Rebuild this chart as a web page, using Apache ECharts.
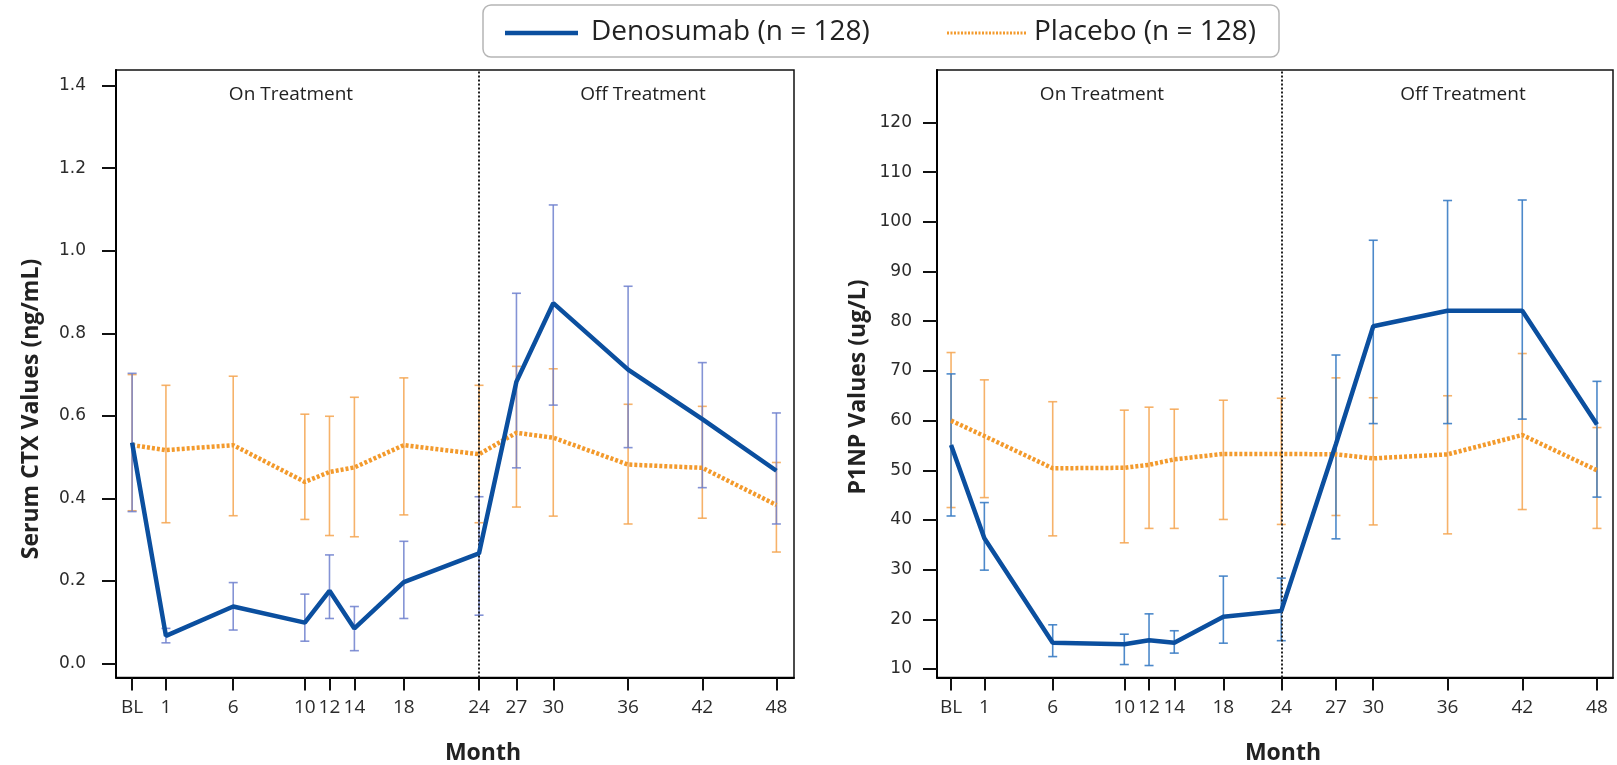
<!DOCTYPE html>
<html><head><meta charset="utf-8">
<script src="https://cdn.jsdelivr.net/npm/echarts@6/dist/echarts.min.js"></script>
<style>html,body{margin:0;padding:0;background:#fff}#c{width:1617px;height:765px}</style>
</head><body><div id="c"></div>
<script>
// ---- data ----
const visitLabels = ['BL','1','6','10','12','14','18','24','27','30','36','42','48'];
// horizontal placement of each visit on the original (irregular) month axis
const xPosLeft  = [-4.0,-1.27,4.16,9.94,11.93,13.94,17.93,24,27.02,29.99,36.03,42.02,48];
const xPosRight = [-3.97,-1.29,4.21,9.97,11.96,13.99,17.94,22.6,27.0,30,35.98,41.99,48];
const switchIndex = 7; // month 24: end of treatment

const ctxTicks  = [0.0,0.2,0.4,0.6,0.8,1.0,1.2,1.4];
const p1npTicks = [10,20,30,40,50,60,70,80,90,100,110,120];

const ctxDeno     = [0.535,0.067,0.138,0.099,0.176,0.085,0.197,0.267,0.683,0.873,0.712,0.592,0.467];
const ctxDenoLow  = [0.368,0.050,0.081,0.054,0.109,0.031,0.109,0.117,0.474,0.626,0.523,0.426,0.338];
const ctxDenoHigh = [0.703,0.085,0.196,0.168,0.263,0.138,0.296,0.404,0.897,1.111,0.914,0.729,0.607];
const ctxPlac     = [0.529,0.517,0.529,0.440,0.464,0.475,0.529,0.507,0.559,0.547,0.482,0.474,0.384];
const ctxPlacLow  = [0.370,0.341,0.358,0.349,0.310,0.307,0.360,0.341,0.379,0.357,0.338,0.352,0.270];
const ctxPlacHigh = [0.700,0.674,0.696,0.604,0.599,0.645,0.692,0.674,0.720,0.714,0.628,0.623,0.487];

const p1npDeno     = [55.1,36.3,15.3,15.0,15.8,15.3,20.5,21.7,55.3,79.0,82.1,82.1,59.2];
const p1npDenoLow  = [40.8,29.9,12.5,10.9,10.7,13.2,15.2,15.7,36.2,59.4,59.4,60.3,44.6];
const p1npDenoHigh = [69.4,43.5,18.9,17.0,21.1,17.7,28.7,28.3,73.2,96.3,104.3,104.4,67.9];
const p1npPlac     = [60.0,56.9,50.4,50.5,51.1,52.2,53.3,53.3,53.2,52.4,53.2,57.1,50.0];
const p1npPlacLow  = [42.5,44.5,36.8,35.4,38.3,38.3,40.1,39.1,40.9,39.0,37.2,42.1,38.3];
const p1npPlacHigh = [73.7,68.2,63.8,62.1,62.7,62.3,64.1,64.5,68.6,64.6,65.0,73.5,58.6];

const denoName = 'Denosumab (n = 128)';
const placName = 'Placebo (n = 128)';

// ---- styles ----
const DENO = '#0b4f9f';
const PLAC = '#f39a2c';
const DENO_ERR_L = 'rgba(110,128,206,0.85)';
const DENO_ERR_R = 'rgba(58,124,196,0.9)';
const PLAC_ERR = 'rgba(244,164,80,0.85)';

const chart = echarts.init(document.getElementById('c'), null, {renderer:'canvas'});

function pts(xs, ys){ return xs.map((x,i)=>[x, ys[i]]); }
function errData(xs, lo, hi){ return xs.map((x,i)=>[x, lo[i], hi[i]]); }
function errRender(color){
  return function(params, api){
    const x = api.value(0);
    const a = api.coord([x, api.value(1)]);
    const b = api.coord([x, api.value(2)]);
    const cap = 4.5;
    const st = {stroke: color, lineWidth: 1.6};
    return {type:'group', children:[
      {type:'line', shape:{x1:a[0], y1:a[1], x2:b[0], y2:b[1]}, style:st},
      {type:'line', shape:{x1:a[0]-cap, y1:a[1], x2:a[0]+cap, y2:a[1]}, style:st},
      {type:'line', shape:{x1:b[0]-cap, y1:b[1], x2:b[0]+cap, y2:b[1]}, style:st}
    ]};
  };
}
function xAxisFor(idx, xs, min, max){
  return {
    type:'value', gridIndex: idx, min, max,
    axisLine:{show:true, onZero:false, lineStyle:{color:'#000', width:2}},
    axisTick:{show:true, customValues: xs, length:13, lineStyle:{color:'#111', width:2}},
    axisLabel:{show:true, customValues: xs, margin:21, color:'#2b2b2b',
      fontFamily:'Open Sans', fontSize:19,
      formatter: v => { const i = xs.findIndex(p => Math.abs(p - v) < 1e-6); return i >= 0 ? visitLabels[i] : ''; }},
    splitLine:{show:false}
  };
}
function yAxisFor(idx, ticks, min, max, fmt, margin){
  return {
    type:'value', gridIndex: idx, min, max,
    axisLine:{show:true, onZero:false, lineStyle:{color:'#000', width:2}},
    axisTick:{show:true, customValues: ticks, length:14, lineStyle:{color:'#111', width:2}},
    axisLabel:{show:true, customValues: ticks, margin, color:'#2b2b2b',
      fontFamily:'DejaVu Sans', fontSize:17, formatter: fmt},
    splitLine:{show:false}
  };
}
function seriesFor(idx, xs, deno, dLo, dHi, plac, pLo, pHi, denoErrColor){
  return [
    {type:'custom', name: placName, xAxisIndex: idx, yAxisIndex: idx, renderItem: errRender(PLAC_ERR),
     encode:{x:0, y:[1,2]}, data: errData(xs, pLo, pHi), z:2, silent:true},
    {type:'custom', name: denoName, xAxisIndex: idx, yAxisIndex: idx, renderItem: errRender(denoErrColor),
     encode:{x:0, y:[1,2]}, data: errData(xs, dLo, dHi), z:3, silent:true},
    {type:'line', name: placName, xAxisIndex: idx, yAxisIndex: idx, data: pts(xs, plac),
     symbol:'none', lineStyle:{color:PLAC, width:4.5, type:[3,2]}, itemStyle:{color:PLAC}, z:4,
     markLine:{silent:true, symbol:'none', label:{show:false},
       lineStyle:{color:'#222', width:2, type:[2,2]},
       data:[{xAxis: xs[switchIndex]}]}},
    {type:'line', name: denoName, xAxisIndex: idx, yAxisIndex: idx, data: pts(xs, deno),
     symbol:'none', lineStyle:{color:DENO, width:4.5}, itemStyle:{color:DENO}, z:5}
  ];
}

const txt = (x, y, s, font, align, extra) => Object.assign({
  type:'text', x, y, style:{text:s, font, fill:'#222', align: align || 'center', verticalAlign:'middle'}
}, extra || {});

const option = {
  animation:false,
  backgroundColor:'#fff',
  grid:[
    {left:116, top:70, width:678, height:607.5, show:true, borderColor:'#111', borderWidth:1.5},
    {left:937, top:70, width:676, height:607.5, show:true, borderColor:'#111', borderWidth:1.5}
  ],
  xAxis:[ xAxisFor(0, xPosLeft, -5.3, 49.42), xAxisFor(1, xPosRight, -5.1, 49.29) ],
  yAxis:[
    yAxisFor(0, ctxTicks, -0.034, 1.438, v => v.toFixed(1), 30),
    yAxisFor(1, p1npTicks, 8.29, 130.57, v => String(Math.round(v)), 25)
  ],
  series:[
    ...seriesFor(0, xPosLeft, ctxDeno, ctxDenoLow, ctxDenoHigh, ctxPlac, ctxPlacLow, ctxPlacHigh, DENO_ERR_L),
    ...seriesFor(1, xPosRight, p1npDeno, p1npDenoLow, p1npDenoHigh, p1npPlac, p1npPlacLow, p1npPlacHigh, DENO_ERR_R)
  ],
  graphic:[
    // legend box
    {type:'rect', shape:{x:483, y:5, width:796, height:52, r:8}, style:{fill:'#fff', stroke:'#b5b5b5', lineWidth:1.5}},
    {type:'line', shape:{x1:505, y1:33, x2:578, y2:33}, style:{stroke:DENO, lineWidth:4.5}},
    txt(591, 32, denoName, '28px "Open Sans"', 'left'),
    {type:'line', shape:{x1:947, y1:33, x2:1026, y2:33}, style:{stroke:PLAC, lineWidth:3, lineDash:[2,1.5]}},
    txt(1034, 32, placName, '28px "Open Sans"', 'left'),
    // panel annotations
    txt(291, 95, 'On Treatment', '19px "Open Sans"'),
    txt(643, 95, 'Off Treatment', '19px "Open Sans"'),
    txt(1102, 95, 'On Treatment', '19px "Open Sans"'),
    txt(1463, 95, 'Off Treatment', '19px "Open Sans"'),
    // axis titles
    txt(483, 753, 'Month', 'bold 23px "Open Sans"'),
    txt(1283, 753, 'Month', 'bold 23px "Open Sans"'),
    txt(31, 409, 'Serum CTX Values (ng/mL)', 'bold 23px "Open Sans"', 'center', {rotation: Math.PI/2}),
    txt(858, 387, 'P1NP Values (ug/L)', 'bold 23px "Open Sans"', 'center', {rotation: Math.PI/2})
  ]
};
chart.setOption(option);
</script>
</body></html>
